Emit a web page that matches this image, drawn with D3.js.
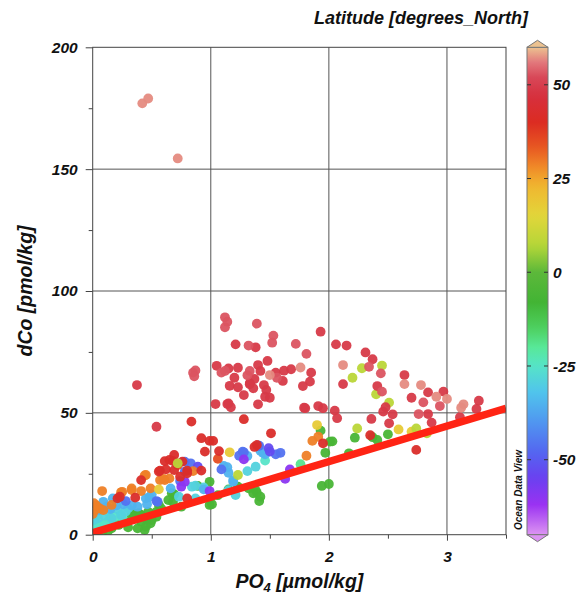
<!DOCTYPE html>
<html>
<head>
<meta charset="utf-8">
<script src="https://cdn.jsdelivr.net/npm/d3@7"></script>
<style>
  body { margin: 0; background: #fff; }
  text { font-family: "Liberation Sans", Arial, sans-serif; font-weight: bold; font-style: italic; fill: #111; }
</style>
</head>
<body>
<div id="chart"></div>
<script>
// data: [PO4, dCo] pairs grouped by the latitude colour band they are drawn in
var salmonPts = [[0.42,177],[0.47,179],[0.72,154.4],[2.12,69.6],[1.76,68.6],[1.50,65.5],[2.64,61.8],[2.78,61.4],
  [2.91,56.6],[3.00,55.7],[3.14,53.5],[3.12,52.1]];
var pinkPts = [[0.85,66.5],[0.87,67.4],[0.86,65.0],[1.12,89.2],[1.14,87.4],[1.12,85.1],[1.39,86.6],[1.53,81.7],
  [1.52,78.8],[1.32,77.6],[1.72,78.3],[1.81,74.2],[1.09,66.5],[1.12,67.2],[1.33,67.2],[1.31,65.4],[1.56,64.4],
  [2.34,68.9],[2.44,66.2],[2.45,58.7],[2.80,54.3],[2.94,52.8],[2.76,49.5]];
var crimsonPts = [[0.375,61.4],[0.54,44.3],[1.93,83.3],[1.21,78.1],[1.38,76.9],[2.06,78.1],[2.15,77.6],[2.12,61.8],
  [1.05,69.3],[1.15,68.2],[1.23,68.5],[1.20,64.4],[1.42,67.2],[1.40,69.6],[1.48,71.3],[1.37,63.9],[1.33,62.2],
  [1.16,61.1],[1.23,60.5],[1.33,61.7],[1.36,60.1],[1.45,61.4],[1.47,59.4],[1.28,57.3],[1.46,56.6],[1.50,56.2],
  [1.55,66.5],[1.61,63.1],[1.62,67.3],[1.68,67.9],[1.85,66.5],[1.84,62.8],[1.78,61.0],
  [1.04,53.6],[1.14,53.6],[1.17,52.3],[1.15,53.9],[1.40,53.5],[1.79,52.1],[1.91,52.8],[1.95,51.9],[2.05,50.9],[2.07,47.8],
  [2.31,74.8],[2.37,72.0],[2.64,65.5],[2.41,61.0],[2.84,58.4],[2.97,58.7],[2.70,56.2],[3.27,55.0],[3.25,51.6],
  [3.11,48.2],[2.84,49.5],[2.87,46.0],[2.48,52.3],[2.46,50.5],[2.54,49.4],[2.36,47.5],[2.51,45.7],[1.80,51.9]];
var redPts = [[0.836,46.4],[0.92,39.6],[0.99,38.5],[1.02,38.5],[1.28,47.4],[1.51,41.6],[1.95,37.5],[2.35,40.8],
  [2.74,34.8],[1.39,36.8],[1.37,36.0],[0.95,34.1],[1.07,34.3],[0.92,26.3],[0.69,32.7],[0.61,30.2],[0.65,30.7],
  [0.57,26.3],[0.62,26.8],[0.76,30.0],[0.80,26.3],[0.69,26.5],[0.74,23.8],[0.41,22.4],[0.23,15.6],[0.36,15.2],
  [0.56,25.9],[0.68,30.2],[0.80,25.2],[0.80,14.9],[0.21,14.9]];
var orangeRedPts = [[1.06,31.1],[0.72,28.6]];
var orangePts = [[0.85,26.1],[0.08,17.9],[0.01,12.9],[0.02,10.1],[0.06,10.8],[0.09,10.1],[0.24,17.4],[0.16,12.2],
  [0.33,18.3],[0.45,24.5],[0.49,19.0],[0.41,17.9],[0.61,22.4],[0.65,23.1],[0.57,22.4],[0.60,22.9],[0.33,19.0],
  [0.25,17.6],[0.44,24.3],[1.81,32.4],[1.91,40.2],[1.86,38.5],[0.00,8.5],[0.03,12.0]];
var yellowPts = [[0.56,18.6],[1.16,33.8],[1.90,45.0],[2.59,43.2],[2.70,42.3]];
var limePts = [[2.28,68.3],[2.45,69.4],[2.20,64.4],[2.40,57.6],[2.51,54.2],[2.74,43.6],[2.83,41.6],[2.24,43.6],
  [0.72,29.3],[1.23,24.5]];
var greenPts = [[1.93,42.7],[2.03,38.3],[2.01,38.2],[1.97,33.6],[2.22,39.8],[2.37,40.0],[2.41,38.9],[2.50,41.2],
  [2.17,33.4],[1.94,20.0],[2.00,20.8],[1.39,17.2],[1.41,13.8],[1.38,18.3],[1.36,17.0],[1.42,15.6],[1.32,19.0],
  [1.23,19.7],[0.89,20.0],[0.99,21.7],[1.01,12.5],[0.99,12.2],[0.67,17.0],[0.68,13.5],[0.75,11.5],[0.54,9.4],
  [0.46,6.0],[0.49,4.7],[0.44,1.9],[0.33,8.1],[0.39,8.8],[0.69,16.6],[0.56,12.2],[0.58,10.8],[0.34,8.8],
  [0.41,8.1],[0.47,9.4],[0.41,5.3],[0.50,6.0],[0.45,3.3],[0.38,2.6],[0.16,2.6],[0.13,1.5],[0.54,7.4],[0.64,14.2],
  [0.27,5.5],[0.22,4.0],[0.30,3.0],[0.08,1.0],[1.15,18.6],[1.06,16.2]];
var mintPts = [[1.76,28.9],[0.05,2.5],[0.10,4.5],[0.18,4.2],[0.14,6.0],[0.03,1.5]];
var aquaPts = [[1.46,30.4],[0.07,4.0],[0.02,5.3],[0.00,3.3],[0.12,5.0],[0.25,7.0],[0.19,7.5],[0.04,8.0]];
var turqPts = [[1.38,27.9],[1.31,26.1],[1.15,18.3],[1.21,16.3],[0.84,19.7],[0.94,19.4],[0.87,14.9],[0.73,15.6],
  [0.87,20.1],[0.30,10.8],[0.21,10.4],[0.13,9.4],[0.045,6.7],[0.16,6.7],[0.24,8.1],[0.10,7.8],[0.01,6.0],[0.28,9.5]];
var skyPts = [[1.44,33.6],[1.42,34.4],[1.46,33.0],[1.19,21.7],[1.19,22.4],[1.11,28.2],[1.14,27.7],[1.15,25.4],
  [0.94,18.6],[0.66,19.0],[0.45,14.9],[0.46,12.5],[0.38,11.5],[0.09,13.5],[0.17,14.9],[1.31,32.3],[0.48,15.5],
  [0.50,16.5],[0.26,12.5],[0.20,12.0],[0.12,11.5],[0.33,12.0],[0.05,10.0],[0.15,10.5]];
var bluePts = [[1.41,36.5],[1.59,33.6],[1.27,34.1],[1.24,32.4],[1.40,36.5],[0.83,29.3],[0.78,30.0],[0.74,22.0],
  [0.28,13.8],[0.54,13.8],[1.09,26.8],[1.28,33.8],[0.78,25.9],[0.55,13.5],[1.55,33.0]];
var violetPts = [[0.89,27.9],[1.49,35.5],[1.50,34.1]];
var purplePts = [[1.28,30.9],[1.67,26.8],[1.63,22.9],[0.99,17.9],[0.75,19.7],[0.78,21.7]];

// latitude of each band, in drawing order
var bands = [
  { lat: -6, pts: greenPts }, { lat: -19, pts: mintPts }, { lat: -25, pts: aquaPts }, { lat: -29, pts: turqPts },
  { lat: -35, pts: skyPts }, { lat: -46, pts: bluePts }, { lat: -53, pts: violetPts }, { lat: -60, pts: purplePts },
  { lat: 29, pts: orangePts }, { lat: 35, pts: orangeRedPts }, { lat: 42, pts: redPts }, { lat: 18, pts: yellowPts },
  { lat: 8, pts: limePts }, { lat: 49, pts: crimsonPts }, { lat: 53, pts: pinkPts }, { lat: 57, pts: salmonPts }
];

// red reference line
var lineX = [0, 3.5];
var lineY = [0.8, 51.9];

// ticks
var xMajor = [0, 1, 2, 3];
var xMinor = [0.5, 1.5, 2.5, 3.5];
var yMajor = [0, 50, 100, 150, 200];
var yMinor = [25, 75, 125, 175];
var cbTicks = [50, 25, 0, -25, -50];

// ODV-like palette
var palLat = [-70, -62, -55, -48, -40, -32, -25, -20, -15, -8, 0, 7, 15, 23, 28, 33, 40, 47, 52, 56, 60];
var palCol = ["#dc94f2", "#9a32f2", "#6a40f0", "#5466f0", "#5096f0", "#50c4ec", "#56e4c8", "#58e898", "#4ed060",
  "#42b434", "#5cb83a", "#b4d638", "#e2d63a", "#f0b630", "#f08a28", "#e85a22", "#dc2c22", "#d6303e", "#d84858",
  "#e2787c", "#ecc290"];

var margin = { top: 47.3, left: 92.7 };
var width = 413.3;
var height = 487.4;

var svg = d3.select("#chart").append("svg")
  .attr("width", 578)
  .attr("height", 594);

var color = d3.scaleLinear().domain(palLat).range(palCol).clamp(true);

var x = d3.scaleLinear().domain([0, 3.5]).range([0, width]);
var y = d3.scaleLinear().domain([0, 200]).range([height, 0]);

var g = svg.append("g").attr("transform", "translate(" + margin.left + "," + margin.top + ")");

g.append("clipPath").attr("id", "clip")
  .append("rect").attr("width", width).attr("height", height);

// grid
g.selectAll(".vgrid").data(xMajor.slice(1)).enter().append("line")
  .attr("x1", d => x(d)).attr("x2", d => x(d)).attr("y1", 0).attr("y2", height)
  .attr("stroke", "#555").attr("stroke-width", 1);
g.selectAll(".hgrid").data(yMajor.slice(1, -1)).enter().append("line")
  .attr("y1", d => y(d)).attr("y2", d => y(d)).attr("x1", 0).attr("x2", width)
  .attr("stroke", "#555").attr("stroke-width", 1);

// points
var pts = [];
bands.forEach(function(b) {
  b.pts.forEach(function(p) { pts.push({ po4: p[0], dco: p[1], lat: b.lat }); });
});

var plot = g.append("g").attr("clip-path", "url(#clip)");
plot.selectAll(".dot").data(pts).enter().append("circle")
  .attr("class", "dot")
  .attr("cx", d => x(d.po4))
  .attr("cy", d => y(d.dco))
  .attr("r", 4.9)
  .attr("fill", d => color(d.lat))
  .attr("fill-opacity", 0.95);

plot.append("line")
  .attr("x1", x(lineX[0])).attr("y1", y(lineY[0]))
  .attr("x2", x(lineX[1])).attr("y2", y(lineY[1]))
  .attr("stroke", "#ff2414").attr("stroke-width", 7.5);

// frame
g.append("rect").attr("width", width).attr("height", height)
  .attr("fill", "none").attr("stroke", "#444").attr("stroke-width", 1);

// axes
g.append("g").attr("transform", "translate(0," + height + ")")
  .call(d3.axisBottom(x).tickValues(xMajor).tickSize(6).tickPadding(10).tickFormat(d3.format("d")));
g.append("g").attr("transform", "translate(0," + height + ")")
  .call(d3.axisBottom(x).tickValues(xMinor).tickSize(4).tickFormat(""));
g.append("g")
  .call(d3.axisLeft(y).tickValues(yMajor).tickSize(7).tickPadding(8));
g.append("g")
  .call(d3.axisLeft(y).tickValues(yMinor).tickSize(4).tickFormat(""));

g.selectAll(".domain").remove();
g.selectAll(".tick line").attr("stroke", "#444");
g.selectAll(".tick text").style("font-size", "15.5px").attr("fill", "#111");

// axis titles
svg.append("text")
  .attr("transform", "translate(32," + (margin.top + height / 2) + ") rotate(-90)")
  .attr("text-anchor", "middle")
  .style("font-size", "19.5px")
  .text("dCo [pmol/kg]");

var xt = svg.append("text")
  .attr("x", margin.left + width / 2).attr("y", 588)
  .attr("text-anchor", "middle")
  .style("font-size", "19.5px");
xt.append("tspan").text("PO");
xt.append("tspan").attr("dy", 4).style("font-size", "13px").text("4");
xt.append("tspan").attr("dy", -4).text(" [\u00b5mol/kg]");

svg.append("text")
  .attr("x", 528).attr("y", 24)
  .attr("text-anchor", "end")
  .style("font-size", "18px")
  .text("Latitude [degrees_North]");

// colour bar
var cbX = 527, cbW = 21;
var cb = d3.scaleLinear().domain([-70, 60]).range([margin.top + height, margin.top]);

var grad = svg.append("defs").append("linearGradient")
  .attr("id", "cbgrad").attr("x1", 0).attr("y1", 1).attr("x2", 0).attr("y2", 0);
d3.range(0, 131, 2).forEach(function(i) {
  grad.append("stop").attr("offset", (i / 130 * 100) + "%").attr("stop-color", color(-70 + i));
});

svg.append("rect")
  .attr("x", cbX).attr("y", margin.top).attr("width", cbW).attr("height", height)
  .attr("fill", "url(#cbgrad)").attr("stroke", "#777").attr("stroke-width", 1);
svg.append("path")
  .attr("d", "M" + cbX + "," + margin.top + "L" + (cbX + cbW / 2) + "," + (margin.top - 7) + "L" + (cbX + cbW) + "," + margin.top + "Z")
  .attr("fill", color(60)).attr("stroke", "#777");
svg.append("path")
  .attr("d", "M" + cbX + "," + (margin.top + height) + "L" + (cbX + cbW / 2) + "," + (margin.top + height + 7) + "L" + (cbX + cbW) + "," + (margin.top + height) + "Z")
  .attr("fill", color(-70)).attr("stroke", "#777");

var cbt = svg.selectAll(".cbt").data(cbTicks).enter().append("g")
  .attr("transform", d => "translate(0," + cb(d) + ")");
cbt.append("line").attr("x1", cbX).attr("x2", cbX + 4).attr("stroke", "#333");
cbt.append("line").attr("x1", cbX + cbW - 4).attr("x2", cbX + cbW).attr("stroke", "#333");
cbt.append("text").attr("x", 553).attr("dy", "0.36em")
  .style("font-size", "15.5px").text(d => d);

svg.append("text")
  .attr("transform", "translate(522,490) rotate(-90)")
  .attr("text-anchor", "middle")
  .style("font-size", "10px")
  .text("Ocean Data View");
</script>
</body>
</html>
